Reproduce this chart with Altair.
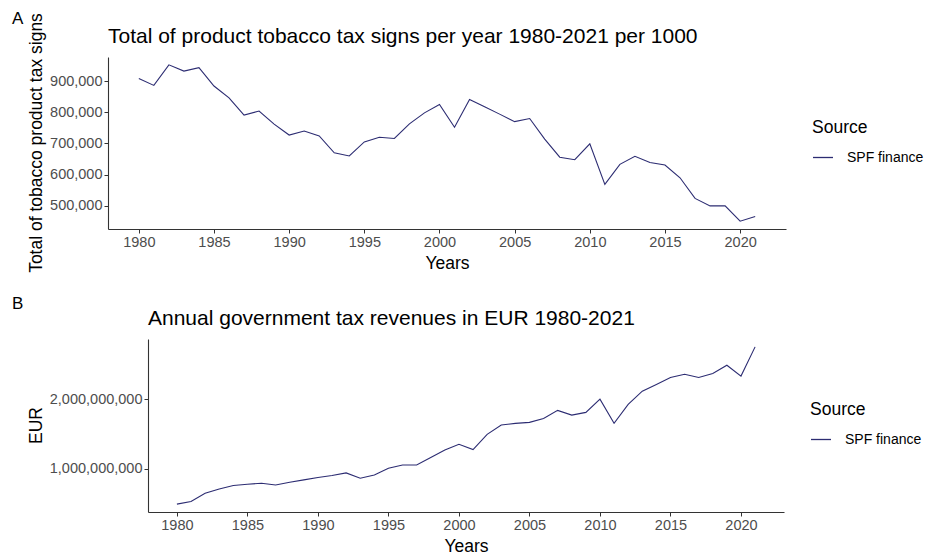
import altair as alt
import pandas as pd

# Yearly series, 1980-2021
years = list(range(1980, 2022))

# Tobacco product tax signs per year (per 1000)
tax_signs = [
    908000, 886000, 952000, 932000, 943000, 884000, 846000, 791000, 804000, 762000,
    727000, 740000, 724000, 670000, 660000, 705000, 720000, 716000, 763000, 798000,
    825000, 752000, 841000, 818000, 794000, 770000, 780000, 714000, 656000, 648000,
    699000, 569000, 633000, 659000, 639000, 631000, 590000, 524000, 500000, 500000,
    451000, 466000,
]

# Annual government tax revenues in EUR
revenues = [
    496000000, 534000000, 653000000, 714000000, 763000000, 781000000, 796000000,
    771000000, 810000000, 843000000, 877000000, 906000000, 943000000, 867000000,
    914000000, 1010000000, 1057000000, 1057000000, 1163000000, 1271000000,
    1353000000, 1277000000, 1496000000, 1629000000, 1653000000, 1667000000,
    1724000000, 1839000000, 1771000000, 1810000000, 2000000000, 1653000000,
    1924000000, 2114000000, 2210000000, 2310000000, 2357000000, 2310000000,
    2367000000, 2486000000, 2330000000, 2749000000,
]

source_name = "SPF finance"
year_ticks = [1980, 1985, 1990, 1995, 2000, 2005, 2010, 2015, 2020]
signs_ticks = [500000, 600000, 700000, 800000, 900000]
revenue_ticks = [1000000000, 2000000000]

FONT = "Liberation Sans"
LINE_COLOR = "#2c2c72"


def padded(values, frac=0.05):
    lo, hi = min(values), max(values)
    pad = (hi - lo) * frac
    return [lo - pad, hi + pad]


def panel(values, title, y_ticks, width, height, legend_x):
    df = pd.DataFrame({"year": years, "value": values, "source": source_name})
    line = alt.Chart(df).mark_line(strokeWidth=1.1).encode(
        x=alt.X(
            "year:Q",
            title="Years",
            scale=alt.Scale(domain=padded(years), nice=False, zero=False),
            axis=alt.Axis(values=year_ticks, format="d"),
        ),
        y=alt.Y(
            "value:Q",
            title=None,
            scale=alt.Scale(domain=padded(values), nice=False, zero=False),
            axis=alt.Axis(values=y_ticks, format=",d"),
        ),
        color=alt.Color(
            "source:N",
            scale=alt.Scale(range=[LINE_COLOR]),
            legend=alt.Legend(
                title="Source",
                orient="none",
                legendX=legend_x,
                legendY=62,
                symbolType="stroke",
                symbolSize=400,
                symbolStrokeWidth=1.3,
                labelOffset=13,
                titlePadding=10,
                titleFontSize=17.5,
                titleFontWeight="normal",
                titleFont=FONT,
                titleColor="#000000",
                labelFontSize=14,
                labelFont=FONT,
                labelColor="#000000",
            ),
        ),
    )
    return line.properties(
        width=width,
        height=height,
        title=alt.TitleParams(
            title,
            anchor="start",
            frame="group",
            fontSize=21,
            fontWeight="normal",
            font=FONT,
            color="#000000",
            offset=10,
        ),
    )


def side(letter, letter_dy, y_title, height):
    # Panel letter plus the rotated y-axis title, kept in their own column
    letter_mark = (
        alt.Chart(pd.DataFrame({"t": [letter]}))
        .mark_text(align="left", baseline="alphabetic", fontSize=17, font=FONT, color="#000000")
        .encode(text="t:N", x=alt.value(0), y=alt.value(letter_dy))
    )
    title_mark = (
        alt.Chart(pd.DataFrame({"t": [y_title]}))
        .mark_text(angle=270, align="center", baseline="middle", fontSize=17.5, font=FONT, color="#000000")
        .encode(text="t:N", x=alt.value(25), y=alt.value(height / 2))
    )
    return alt.layer(letter_mark, title_mark).properties(width=34, height=height)


top = panel(
    tax_signs,
    "Total of product tobacco tax signs per year 1980-2021 per 1000",
    signs_ticks,
    678,
    172,
    704,
)
bottom = panel(
    revenues,
    "Annual government tax revenues in EUR 1980-2021",
    revenue_ticks,
    636,
    173,
    662,
)

row_a = alt.hconcat(
    side("A", -33, "Total of tobacco product tax signs", 172), top, spacing=3
).resolve_scale(color="independent")
row_b = alt.hconcat(side("B", -30, "EUR", 173), bottom, spacing=3).resolve_scale(
    color="independent"
)

chart = (
    alt.vconcat(row_a, row_b, spacing=22)
    .resolve_scale(color="independent")
    .properties(padding={"left": 12, "top": 10, "right": 5, "bottom": 2})
    .configure_view(stroke=None)
    .configure_axis(
        grid=False,
        domainColor="#333333",
        domainWidth=1.1,
        tickColor="#333333",
        tickSize=4,
        labelColor="#4d4d4d",
        labelFont=FONT,
        labelFontSize=14.5,
        labelPadding=2,
        titleFont=FONT,
        titleFontSize=17.5,
        titleFontWeight="normal",
        titleColor="#000000",
    )
    .configure_axisX(titlePadding=6)
)

chart.save("out.html", embed_options={"renderer": "svg", "actions": False})
